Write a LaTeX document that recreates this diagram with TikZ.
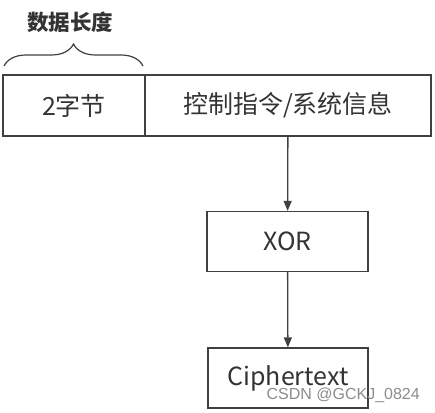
\documentclass[tikz,border=0pt]{standalone}
\usepackage{fontspec}
\newfontfamily\cjk{Noto Sans CJK SC}
\newfontfamily\wmfont{Liberation Sans}
\usetikzlibrary{arrows.meta,decorations.pathreplacing}
\definecolor{linecol}{RGB}{64,64,64}
\definecolor{textcol}{RGB}{51,51,51}

\tikzset{
  box/.style={draw=linecol,line width=1.3pt,inner sep=0pt,
    text=textcol,font=\cjk\fontsize{25}{28}\selectfont},
  arr/.style={-{Triangle[length=10pt,width=8pt]},draw=linecol,line width=1.3pt},
}

\begin{document}
\begin{tikzpicture}[x=1pt,y=-1pt]
\useasboundingbox (0,0) rectangle (435,412);

% frame
\node[box,minimum width=142pt,minimum height=61pt] (len) at (74,105.5) {2字节};
\node[box,minimum width=286pt,minimum height=61pt] (ctrl) at (288,105.5) {控制指令/系统信息};

% length brace
\coordinate (bl) at (4,66);
\coordinate (br) at (143,66);
\draw[linecol,line width=1.2pt,decorate,decoration={brace,amplitude=22pt,aspect=0.5}] (bl) -- (br);
\node[text=textcol,font=\cjk\bfseries\fontsize{21.5}{24}\selectfont] (lenlabel) at (70,22) {数据长度};

% encryption steps
\node[box,minimum width=161pt,minimum height=60pt] (xor) at (287.5,241.5) {XOR};
\node[box,minimum width=160pt,minimum height=60pt] (cipher) at (288,378) {Ciphertext};

\draw[arr] (ctrl) -- (xor);
\draw[arr] (xor) -- (cipher);

% watermark
\node[text=black!45,font=\wmfont\fontsize{16}{18}\selectfont,anchor=south east,inner sep=0pt] (wm) at (420,403) {CSDN @GCKJ\_0824};
\end{tikzpicture}
\end{document}
